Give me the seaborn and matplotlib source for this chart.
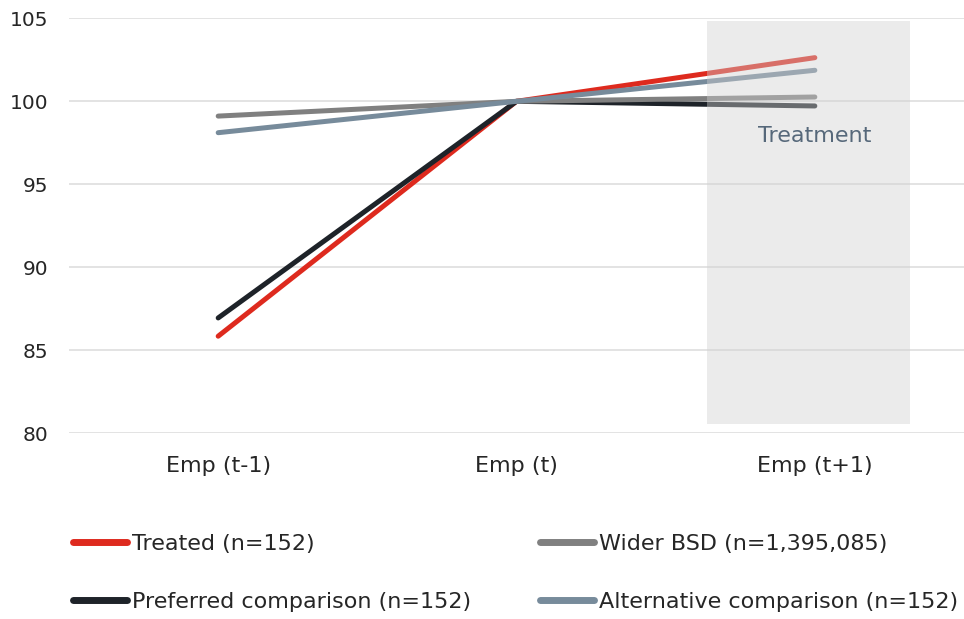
import matplotlib
matplotlib.use("Agg")
import matplotlib.pyplot as plt
import seaborn as sns
import pandas as pd

# data
periods = ["Emp (t-1)", "Emp (t)", "Emp (t+1)"]
treated = [85.85, 100.0, 102.63]
preferred = [86.95, 100.0, 99.72]
wider_bsd = [99.11, 100.0, 100.26]
alternative = [98.11, 100.0, 101.87]

series_names = [
    "Treated (n=152)",
    "Preferred comparison (n=152)",
    "Wider BSD (n=1,395,085)",
    "Alternative comparison (n=152)",
]
series_values = [treated, preferred, wider_bsd, alternative]
colors = ["#de2a1e", "#1e2329", "#808080", "#778b9b"]


def main():
    rows = []
    for name, vals in zip(series_names, series_values):
        for p, v in zip(periods, vals):
            rows.append({"period": p, "value": v, "series": name})
    df = pd.DataFrame(rows)

    sns.set_style("white")
    plt.rcParams["font.family"] = ["DejaVu Sans"]

    fig = plt.figure(figsize=(9.64, 6.19), dpi=100)
    ax = fig.add_axes([0.0716, 0.300, 0.9284, 0.6704])

    sns.lineplot(data=df, x="period", y="value", hue="series",
                 hue_order=series_names, palette=colors, sort=False,
                 linewidth=3.6, solid_capstyle="round", ax=ax, zorder=3)

    # shaded treatment period
    ax.axvspan(1.64, 2.32, ymin=0.022, ymax=0.994, color="#d0d0d0",
               alpha=0.42, lw=0, zorder=4)
    ax.text(2.0, 97.9, "Treatment", ha="center", va="center",
            fontsize=16, color="#56687a", zorder=5)

    ax.set_xlim(-0.5, 2.5)
    ax.set_ylim(80, 105)
    ax.set_yticks([80, 85, 90, 95, 100, 105])
    ax.grid(axis="y", color="#e0e0e0", linewidth=1.3, zorder=0)
    ax.grid(axis="x", visible=False)
    sns.despine(ax=ax, left=True, bottom=True)
    ax.tick_params(axis="both", length=0, labelsize=16, labelcolor="#262626")
    ax.tick_params(axis="y", pad=15, labelsize=14.5)
    ax.tick_params(axis="x", pad=16)
    ax.set_xlabel("")
    ax.set_ylabel("")

    handles, labels = ax.get_legend_handles_labels()
    ax.get_legend().remove()
    leg = fig.legend(handles, labels, ncol=2, loc="upper left",
                     bbox_to_anchor=(0.076, 0.137), frameon=False,
                     fontsize=16, handlelength=2.4, handletextpad=0.25,
                     labelspacing=1.7, columnspacing=3.1, borderpad=0,
                     borderaxespad=0)
    for h in leg.legend_handles:
        h.set_linewidth(5)
        h.set_solid_capstyle("round")
    for t in leg.get_texts():
        t.set_color("#262626")

    fig.savefig("out.png", dpi=100)


if __name__ == "__main__":
    main()
